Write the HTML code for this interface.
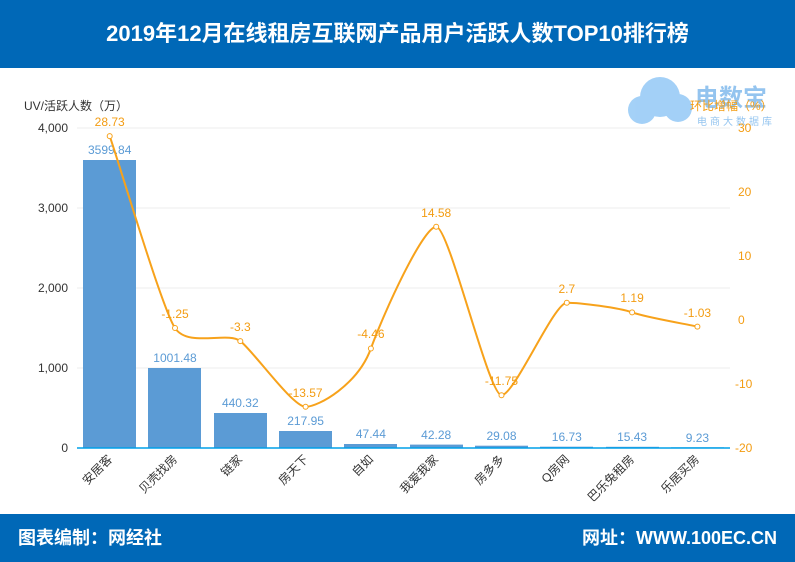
<!DOCTYPE html><html><head><meta charset="utf-8"><style>
body{margin:0;width:795px;height:562px;overflow:hidden;background:#fff;font-family:"Liberation Sans","Noto Sans CJK SC",sans-serif}
.h{position:absolute;left:0;top:0;width:795px;height:68px;background:#0068b7;color:#fff;font-weight:bold;font-size:22px;text-align:center;line-height:68px}
.f{position:absolute;left:0;top:514px;width:795px;height:48px;background:#0068b7;color:#fff;font-weight:bold;font-size:18px;line-height:48px}
</style></head><body>
<div class="h">2019年12月在线租房互联网产品用户活跃人数TOP10排行榜</div>
<svg style="position:absolute;left:0;top:0" width="795" height="562" font-family="Liberation Sans, Noto Sans CJK SC, sans-serif">
<g opacity="0.5">
<circle cx="660" cy="97" r="20" fill="#4aa3f0"/><circle cx="642" cy="110" r="14" fill="#4aa3f0"/><circle cx="678" cy="108" r="14" fill="#4aa3f0"/>
<text x="695" y="106" font-size="24" font-weight="bold" fill="#2b8be0">电数宝</text>
<text x="697" y="125" font-size="10" fill="#2b8be0" letter-spacing="3">电商大数据库</text></g>
<text x="24" y="110" font-size="12" fill="#333">UV/活跃人数（万）</text>
<text x="690" y="110" font-size="12" fill="#f39c12">环比增幅（%）</text>
<g stroke="#eee"><line x1="77" y1="128" x2="730" y2="128"/><line x1="77" y1="208" x2="730" y2="208"/><line x1="77" y1="288" x2="730" y2="288"/><line x1="77" y1="368" x2="730" y2="368"/></g>
<g font-size="12" fill="#333" text-anchor="end"><text x="68" y="132">4,000</text><text x="68" y="212">3,000</text><text x="68" y="292">2,000</text><text x="68" y="372">1,000</text><text x="68" y="452">0</text></g>
<g font-size="12" fill="#f39c12"><text x="738" y="132">30</text><text x="738" y="196">20</text><text x="738" y="260">10</text><text x="738" y="324">0</text><text x="735" y="388">-10</text><text x="735" y="452">-20</text></g>
<g fill="#5b9bd5">
<rect x="83" y="160" width="53" height="288"/><rect x="148" y="368" width="53" height="80"/><rect x="214" y="413" width="53" height="35"/><rect x="279" y="431" width="53" height="17"/><rect x="344" y="444" width="53" height="4"/><rect x="410" y="444.6" width="53" height="3.4"/><rect x="475" y="445.7" width="53" height="2.3"/><rect x="540" y="446.7" width="53" height="1.3"/><rect x="606" y="446.8" width="53" height="1.2"/><rect x="671" y="447.3" width="53" height="0.7"/></g>
<line x1="77" y1="448" x2="730" y2="448" stroke="#00a0e9" stroke-width="1.5"/>
<g font-size="12" fill="#5b9bd5" text-anchor="middle">
<text x="109.7" y="154">3599.84</text><text x="175" y="362">1001.48</text><text x="240.3" y="407">440.32</text><text x="305.6" y="425">217.95</text><text x="370.9" y="438">47.44</text><text x="436.2" y="439">42.28</text><text x="501.5" y="440">29.08</text><text x="566.8" y="441">16.73</text><text x="632.1" y="441">15.43</text><text x="697.4" y="442">9.23</text></g>
<path d="M109.7,136.1 C122.7,174.5 162,308 175,328 C188,348 227.3,331 240.3,341.1 C253.3,351 292.6,406.8 305.6,406.8 C318.6,406.8 357.9,384.5 370.9,348.5 C383.9,312.5 423.2,226.7 436.2,226.7 C449.2,226.7 488.5,395.2 501.5,395.2 C514.5,395.2 553.8,302.7 566.8,302.7 C579.8,302.7 619.1,307.6 632.1,312.4 C645.1,317.2 684.4,323.8 697.4,326.6" fill="none" stroke="#f7a21b" stroke-width="2"/>
<g fill="#fff" stroke="#f7a21b"><circle cx="109.7" cy="136.1" r="2.5"/><circle cx="175" cy="328" r="2.5"/><circle cx="240.3" cy="341.1" r="2.5"/><circle cx="305.6" cy="406.8" r="2.5"/><circle cx="370.9" cy="348.5" r="2.5"/><circle cx="436.2" cy="226.7" r="2.5"/><circle cx="501.5" cy="395.2" r="2.5"/><circle cx="566.8" cy="302.7" r="2.5"/><circle cx="632.1" cy="312.4" r="2.5"/><circle cx="697.4" cy="326.6" r="2.5"/></g>
<g font-size="12" fill="#f39c12" text-anchor="middle">
<text x="109.7" y="126">28.73</text><text x="175" y="318">-1.25</text><text x="240.3" y="331">-3.3</text><text x="305.6" y="397">-13.57</text><text x="370.9" y="338">-4.46</text><text x="436.2" y="217">14.58</text><text x="501.5" y="385">-11.75</text><text x="566.8" y="293">2.7</text><text x="632.1" y="302">1.19</text><text x="697.4" y="317">-1.03</text></g>
<g font-size="12" fill="#333" text-anchor="end">
<text transform="translate(113,460) rotate(-45)">安居客</text><text transform="translate(178,460) rotate(-45)">贝壳找房</text><text transform="translate(243,460) rotate(-45)">链家</text><text transform="translate(309,460) rotate(-45)">房天下</text><text transform="translate(374,460) rotate(-45)">自如</text><text transform="translate(439,460) rotate(-45)">我爱我家</text><text transform="translate(505,460) rotate(-45)">房多多</text><text transform="translate(570,460) rotate(-45)">Q房网</text><text transform="translate(635,460) rotate(-45)">巴乐兔租房</text><text transform="translate(700,460) rotate(-45)">乐居买房</text></g>
</svg>
<div class="f"><span style="position:absolute;left:18px">图表编制：网经社</span><span style="position:absolute;right:18px">网址：WWW.100EC.CN</span></div>
</body></html>
